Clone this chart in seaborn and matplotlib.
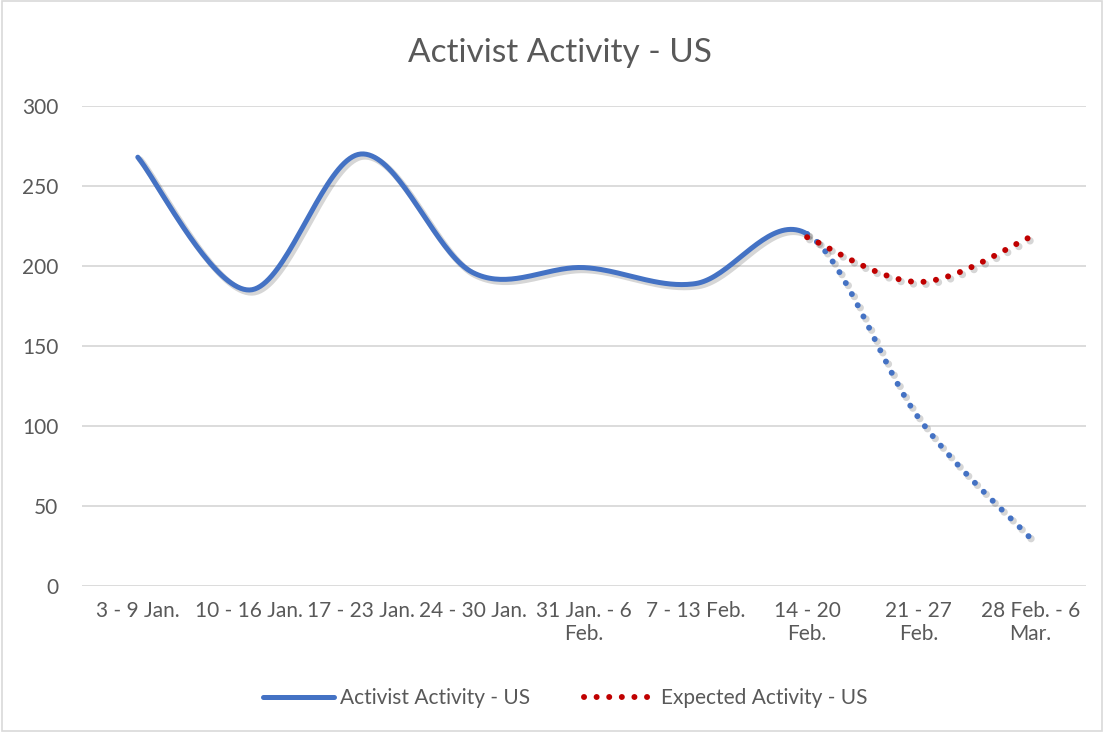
import numpy as np
import pandas as pd
import matplotlib
matplotlib.use("Agg")
import matplotlib.pyplot as plt
import matplotlib.patheffects as pe
from matplotlib.patches import Rectangle
from matplotlib.lines import Line2D
import seaborn as sns

# data
weeks = ["3 - 9 Jan.", "10 - 16 Jan.", "17 - 23 Jan.", "24 - 30 Jan.",
         "31 Jan. - 6\nFeb.", "7 - 13 Feb.", "14 - 20\nFeb.", "21 - 27\nFeb.",
         "28 Feb. - 6\nMar."]
activist = [268, 185, 270, 196, 199, 189, 220, 105, 30]
expected_weeks = [6, 7, 8]          # index of the weeks the expected series covers
expected = [218, 190, 218]
last_actual = 6                     # after this week the activist line is a forecast

BLUE = "#4472C4"
RED = "#C00000"
GREY_TXT = "#595959"
GRID = "#D9D9D9"
DOTS = (0, (0.01, 2.1))


def smooth(xs, ys, n=40):
    # excel style smoothed line: bezier segments with catmull-rom control points
    pts = np.column_stack([xs, ys]).astype(float)
    p = np.vstack([pts[0], pts, pts[-1]])
    out = []
    for i in range(1, len(p) - 2):
        p0, p1, p2, p3 = p[i - 1], p[i], p[i + 1], p[i + 2]
        c1 = p1 + (p2 - p0) / 6.0
        c2 = p2 - (p3 - p1) / 6.0
        t = np.linspace(0, 1, n, endpoint=(i == len(p) - 3))[:, None]
        seg = ((1 - t) ** 3) * p1 + 3 * ((1 - t) ** 2) * t * c1 + 3 * (1 - t) * t ** 2 * c2 + t ** 3 * p2
        out.append(seg)
    out = np.vstack(out)
    return pd.DataFrame({"x": out[:, 0], "y": out[:, 1]})


sns.set_theme(style="white")
plt.rcParams["font.family"] = ["Lato", "DejaVu Sans"]

fig = plt.figure(figsize=(11.04, 7.32), dpi=100)
ax = fig.add_axes([0.0743, 0.1995, 0.9094, 0.6557])

def shadow(lw):
    return [pe.SimpleLineShadow(offset=(1.8, -1.8), shadow_color="#000000", alpha=0.16, linewidth=lw + 1),
            pe.Normal()]

act = smooth(range(len(activist)), activist)
solid = act[act.x <= last_actual]
dotted = act[act.x >= last_actual]
exp_df = smooth(expected_weeks, expected)

g = sns.lineplot(data=solid, x="x", y="y", ax=ax, color=BLUE, linewidth=3.6,
                 sort=False, estimator=None, solid_capstyle="round", zorder=3)
g.lines[-1].set_path_effects(shadow(3.6))
sns.lineplot(data=dotted, x="x", y="y", ax=ax, color=BLUE, linewidth=4.3,
             sort=False, estimator=None, zorder=3)
ax.lines[-1].set_linestyle(DOTS)
ax.lines[-1].set_dash_capstyle("round")
ax.lines[-1].set_path_effects(shadow(4.3))
sns.lineplot(data=exp_df, x="x", y="y", ax=ax, color=RED, linewidth=4.3,
             sort=False, estimator=None, zorder=4)
ax.lines[-1].set_linestyle(DOTS)
ax.lines[-1].set_dash_capstyle("round")
ax.lines[-1].set_path_effects(shadow(4.3))

ax.set_xlim(-0.5, len(weeks) - 0.5)
ax.set_ylim(0, 300)
ax.set_yticks(range(0, 301, 50))
ax.set_xticks(range(len(weeks)))
ax.set_xticklabels(weeks, multialignment="center")
ax.set_xlabel("")
ax.set_ylabel("")
ax.grid(axis="y", color=GRID, linewidth=1.3)
ax.set_axisbelow(True)
for s in ax.spines.values():
    s.set_visible(False)
ax.tick_params(axis="both", length=0, labelsize=15, colors=GREY_TXT)
ax.tick_params(axis="y", pad=17)
ax.tick_params(axis="x", pad=11)

fig.text(0.507, 0.928, "Activist Activity - US", ha="center", va="center",
         fontsize=24, color=GREY_TXT)

handles = [Line2D([], [], color=BLUE, linewidth=3.6, solid_capstyle="round"),
           Line2D([], [], color=RED, linewidth=4.3, linestyle=DOTS,
                  dash_capstyle="round")]
fig.legend(handles, ["Activist Activity - US", "Expected Activity - US"],
           loc="center", bbox_to_anchor=(0.512, 0.046), ncol=2, frameon=False,
           fontsize=15, handlelength=3.4, columnspacing=2.6, handletextpad=0.3,
           labelcolor=GREY_TXT)

fig.patches.append(Rectangle((0.002, 0.002), 0.996, 0.996, transform=fig.transFigure,
                             fill=False, edgecolor="#D9D9D9", linewidth=1.2))

fig.savefig("out.png", dpi=100, facecolor="white")
